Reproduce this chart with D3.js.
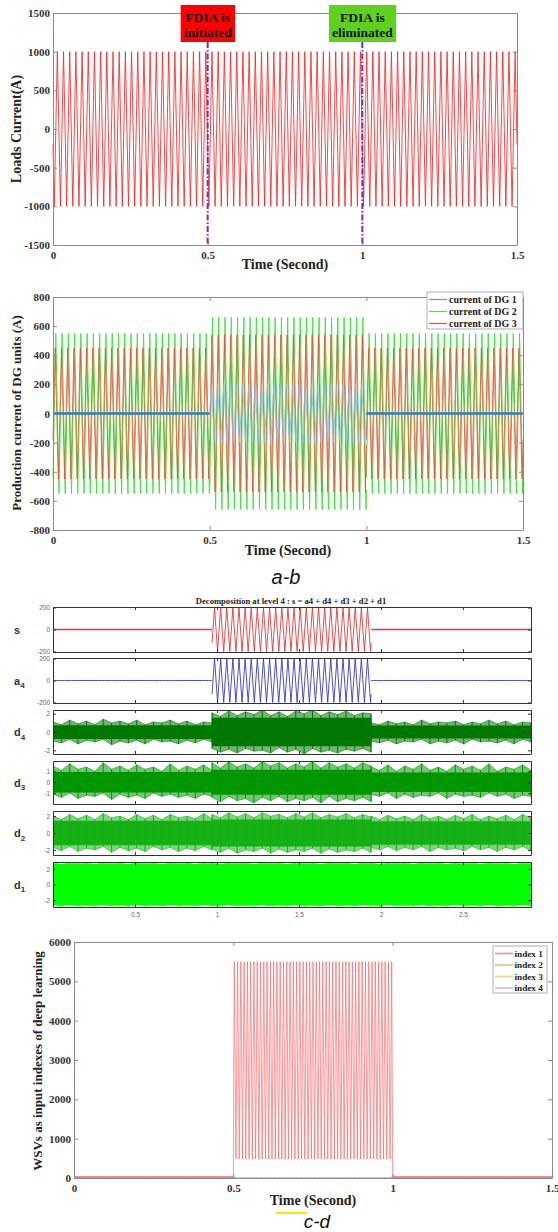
<!DOCTYPE html>
<html><head><meta charset="utf-8">
<script src="https://cdn.jsdelivr.net/npm/d3@7"></script>
<style>body{margin:0;background:#fff}svg{display:block}</style>
</head><body>
<script>
// ================= DATA =================
// Panel a : loads current
const loadTicksX = [0, 0.5, 1, 1.5];
const loadTicksY = [-1500, -1000, -500, 0, 500, 1000, 1500];
const loadSegStart = [0];
const loadSegEnd = [1.5];
const loadSegAmp = [1000];
const loadFreq = 50;
const loadFirstPeak = 0.014;
const eventTimes = [0.5, 1];
const eventLabels = [["FDIA is", "initiated"], ["FDIA is", "eliminated"]];

// Panel b : production current of DG units
const dgNames = ["current of DG 1", "current of DG 2", "current of DG 3"];
const dgTicksX = [0, 0.5, 1, 1.5];
const dgTicksY = [-800, -600, -400, -200, 0, 200, 400, 600, 800];
const dgSegStart = [0, 0.5, 1];
const dgSegEnd = [0.5, 1, 1.5];
const dg1Amp = [0, 200, 0];
const dg2Amp = [550, 660, 550];
const dg3Amp = [450, 540, 450];
const dgFirstPeak = [0.505, 0.009, 0.007];
const dgFreq = 50;

// Panel c : wavelet decomposition
const wavTitle = "Decomposition at level 4 : s = a4 + d4 + d3 + d2 + d1";
const wavTicksX = [0.5, 1, 1.5, 2, 2.5];
const wavXMax = 2.915;
const wavRegionStart = [0, 0.97, 1.94];
const wavRegionEnd = [0.97, 1.94, 2.915];
const wavRowNames = [["s", ""], ["a", "4"], ["d", "4"], ["d", "3"], ["d", "2"], ["d", "1"]];
const wavRowTicks = [[-200, 0, 200], [-200, 0, 200], [-2, 0, 2], [-1, 0, 1], [-2, 0, 2], [-2, 0, 2]];
const sAmp = [0, 200, 0];
const a4Amp = [0, 200, 0];
const sFreq = 26.8;
const sFirstPeak = 0.985;
// dense core half-width of each detail band, per region (before / during / after the attack)
const d4Core = [0.75, 1.55, 0.7];
const d3Core = [0.95, 1.15, 0.9];
const d2Core = [1.45, 1.6, 1.4];
const d1Core = [2.65, 2.65, 2.65];
// outer envelope (spikes), 20 samples per region
const d4Upper = [1.1,0.8,1.3,0.9,1.2,0.8,1.4,1.0,1.2,0.9,1.3,0.8,1.1,1.0,1.3,0.9,1.2,0.8,1.1,1.0,
                 2.1,1.7,2.3,1.8,2.2,1.9,2.4,1.8,2.2,1.7,2.3,2.0,2.4,1.8,2.2,1.9,2.3,1.8,2.1,2.0,
                 1.0,0.8,1.2,0.9,1.1,0.8,1.3,0.9,1.1,1.0,1.2,0.8,1.1,0.9,1.3,0.9,1.2,0.8,1.1,1.0];
const d4Lower = [-1.0,-1.2,-0.8,-1.3,-0.9,-1.1,-0.8,-1.4,-1.0,-1.2,-0.9,-1.3,-0.8,-1.1,-1.0,-1.3,-0.9,-1.2,-0.8,-1.1,
                 -1.8,-2.2,-1.9,-2.3,-1.8,-2.1,-2.0,-2.3,-1.7,-2.2,-1.9,-2.4,-1.8,-2.2,-2.0,-2.3,-1.9,-2.1,-1.8,-2.2,
                 -1.0,-1.2,-0.9,-1.3,-1.0,-1.1,-0.8,-1.3,-1.0,-1.2,-0.9,-1.3,-0.8,-1.1,-1.0,-1.2,-0.9,-1.3,-0.8,-1.1];
const d3Upper = [1.5,1.1,1.7,1.2,1.4,1.0,1.8,1.2,1.5,1.1,1.6,1.2,1.4,1.0,1.7,1.1,1.5,1.2,1.6,1.1,
                 1.8,1.3,1.9,1.4,1.7,1.3,1.9,1.5,1.8,1.3,1.7,1.4,1.9,1.3,1.8,1.4,1.7,1.3,1.8,1.5,
                 1.4,1.1,1.6,1.0,1.5,1.2,1.7,1.1,1.4,1.0,1.6,1.2,1.5,1.1,1.7,1.0,1.4,1.2,1.6,1.1];
const d3Lower = [-1.1,-1.4,-1.0,-1.5,-1.2,-1.3,-1.0,-1.6,-1.1,-1.4,-1.2,-1.5,-1.0,-1.3,-1.1,-1.4,-1.2,-1.5,-1.1,-1.3,
                 -1.4,-1.8,-1.3,-1.7,-1.5,-1.9,-1.4,-1.7,-1.3,-1.8,-1.5,-1.7,-1.4,-1.9,-1.3,-1.8,-1.5,-1.7,-1.4,-1.8,
                 -1.1,-1.3,-1.0,-1.5,-1.1,-1.4,-1.2,-1.3,-1.0,-1.5,-1.1,-1.3,-1.2,-1.4,-1.0,-1.3,-1.1,-1.5,-1.2,-1.3];
const d2Upper = [2.0,1.6,2.2,1.7,2.1,1.6,2.3,1.8,2.0,1.6,2.2,1.7,2.1,1.6,2.2,1.8,2.0,1.7,2.3,1.7,
                 2.2,1.8,2.4,1.9,2.3,1.8,2.4,2.0,2.2,1.8,2.3,1.9,2.4,1.8,2.2,1.9,2.3,1.8,2.2,1.9,
                 2.0,1.6,2.1,1.7,2.0,1.6,2.2,1.7,2.0,1.6,2.1,1.7,2.2,1.6,2.0,1.7,2.1,1.6,2.2,1.8];
const d2Lower = [-1.7,-2.1,-1.6,-2.2,-1.8,-2.0,-1.6,-2.3,-1.7,-2.1,-1.8,-2.2,-1.6,-2.0,-1.7,-2.2,-1.8,-2.1,-1.6,-2.0,
                 -1.9,-2.3,-1.8,-2.4,-2.0,-2.2,-1.8,-2.4,-1.9,-2.3,-2.0,-2.2,-1.8,-2.4,-1.9,-2.3,-2.0,-2.2,-1.8,-2.3,
                 -1.7,-2.0,-1.6,-2.1,-1.7,-2.0,-1.6,-2.2,-1.7,-2.0,-1.8,-2.1,-1.6,-2.0,-1.7,-2.2,-1.7,-2.0,-1.6,-2.1];
const d1Upper = [2.8,2.6,2.8,2.7,2.8,2.6,2.8,2.7,2.8,2.6,2.8,2.7,2.8,2.6,2.8,2.7,2.8,2.6,2.8,2.7,
                 2.8,2.6,2.8,2.7,2.8,2.6,2.8,2.7,2.8,2.6,2.8,2.7,2.8,2.6,2.8,2.7,2.8,2.6,2.8,2.7,
                 2.8,2.6,2.8,2.7,2.8,2.6,2.8,2.7,2.8,2.6,2.8,2.7,2.8,2.6,2.8,2.7,2.8,2.6,2.8,2.7];
const d1Lower = [-2.7,-2.8,-2.6,-2.8,-2.7,-2.8,-2.6,-2.8,-2.7,-2.8,-2.6,-2.8,-2.7,-2.8,-2.6,-2.8,-2.7,-2.8,-2.6,-2.8,
                 -2.7,-2.8,-2.6,-2.8,-2.7,-2.8,-2.6,-2.8,-2.7,-2.8,-2.6,-2.8,-2.7,-2.8,-2.6,-2.8,-2.7,-2.8,-2.6,-2.8,
                 -2.7,-2.8,-2.6,-2.8,-2.7,-2.8,-2.6,-2.8,-2.7,-2.8,-2.6,-2.8,-2.7,-2.8,-2.6,-2.8,-2.7,-2.8,-2.6,-2.8];

// Panel d : WSVs
const wsvNames = ["index 1", "index 2", "index 3", "index 4"];
const wsvTicksX = [0, 0.5, 1, 1.5];
const wsvTicksY = [0, 1000, 2000, 3000, 4000, 5000, 6000];
const wsvAttackStart = 0.503;
const wsvAttackEnd = 0.997;
const wsvEventStart = 0.5;
const wsvEventEnd = 1.0;
const wsvPeakCount = 49;
const wsvHigh = 5500;
const wsvLow = 480;
const wsvBaseline = [25, 12, 8, 5];

// ================= HELPERS =================
const SERIF = "'Liberation Serif','Times New Roman',serif";
const SANS = "'Liberation Sans',Arial,sans-serif";
const svg = d3.select("body").append("svg").attr("width", 558).attr("height", 1232);

function triVal(t, amp, freq, firstPeak) {
  const half = 1 / (2 * freq);
  const p = (t - firstPeak) / half;
  const k = Math.floor(p), f = p - k;
  const s = (((k % 2) + 2) % 2 === 0) ? 1 : -1;
  return amp * (s - 2 * s * f);
}
function zigzag(starts, ends, amps, freq, firstPeak) {
  const half = 1 / (2 * freq), segs = [];
  starts.forEach((s, i) => {
    const e = ends[i], a = amps[i], pts = [];
    pts.push({t: s, v: triVal(s, a, freq, firstPeak)});
    const k0 = Math.ceil((s - firstPeak) / half + 1e-9), k1 = Math.floor((e - firstPeak) / half - 1e-9);
    for (let k = k0; k <= k1; k++) pts.push({t: firstPeak + k * half, v: ((((k % 2) + 2) % 2) === 0 ? 1 : -1) * a});
    pts.push({t: e, v: triVal(e, a, freq, firstPeak)});
    segs.push({amp: a, pts});
  });
  return segs;
}
function styleAx(g, font, size, color, weight) {
  g.select(".domain").attr("stroke", "#8a8a8a");
  g.selectAll(".tick line").attr("stroke", "#8a8a8a");
  g.selectAll(".tick text").attr("font-family", font).attr("font-size", size)
    .attr("font-weight", weight || "bold").attr("fill", color);
}
function boxAxes(x, y, xt, yt, o) {
  const g = svg.append("g");
  const yb = y.range()[0], yt0 = y.range()[1], xl = x.range()[0], xr = x.range()[1];
  const fmt = d => String(d);
  const bx = g.append("g").attr("transform", `translate(0,${yb})`)
    .call(d3.axisBottom(x).tickValues(xt).tickSizeInner(-(o.tick || 4)).tickSizeOuter(0).tickPadding(o.xpad).tickFormat(o.noX ? "" : fmt));
  const tx = g.append("g").attr("transform", `translate(0,${yt0})`)
    .call(d3.axisTop(x).tickValues(xt).tickSizeInner(-(o.tick || 4)).tickSizeOuter(0).tickFormat(""));
  const ly = g.append("g").attr("transform", `translate(${xl},0)`)
    .call(d3.axisLeft(y).tickValues(yt).tickSizeInner(-(o.tick || 4)).tickSizeOuter(0).tickPadding(o.ypad).tickFormat(fmt));
  const ry = g.append("g").attr("transform", `translate(${xr},0)`)
    .call(d3.axisRight(y).tickValues(yt).tickSizeInner(-(o.tick || 4)).tickSizeOuter(0).tickFormat(""));
  [bx, tx, ly, ry].forEach(a => styleAx(a, o.font, o.size, o.color, o.weight));
  if (o.boxColor) [bx, tx, ly, ry].forEach(a => { a.select(".domain").attr("stroke", o.boxColor); a.selectAll(".tick line").attr("stroke", o.boxColor); });
  return g;
}
const lineGen = (x, y) => d3.line().x(d => x(d.t)).y(d => y(d.v));

// ================= PANEL A =================
{
  const x = d3.scaleLinear().domain([0, 1.5]).range([53, 517]);
  const y = d3.scaleLinear().domain([-1500, 1500]).range([245, 13]);
  const segs = zigzag(loadSegStart, loadSegEnd, loadSegAmp, loadFreq, loadFirstPeak);
  segs.forEach(s => svg.append("path").attr("d", lineGen(x, y)(s.pts)).attr("fill", "none")
    .attr("stroke", "#ff2424").attr("stroke-width", 0.85));
  boxAxes(x, y, loadTicksX, loadTicksY, {xpad: 6, ypad: 3, font: SERIF, size: 11, color: "#333"});
  const boxColors = ["#ff0000", "#5fd11c"];
  eventTimes.forEach((t, i) => {
    svg.append("line").attr("x1", x(t)).attr("x2", x(t)).attr("y1", 42).attr("y2", 245)
      .attr("stroke", "#7a2fa8").attr("stroke-width", 2).attr("stroke-dasharray", "6,2,1.5,2");
    const gt = svg.append("g");
    const txt = gt.append("text").attr("font-family", SERIF).attr("font-weight", "bold").attr("font-size", 13.5)
      .attr("fill", "#111").attr("text-anchor", "middle");
    eventLabels[i].forEach((l, j) => txt.append("tspan").attr("x", x(t)).attr("y", 21.5 + j * 15.5).text(l));
    const bb = txt.node().getBBox();
    gt.insert("rect", "text").attr("x", bb.x - 3).attr("y", 5).attr("width", bb.width + 6).attr("height", 37)
      .attr("fill", boxColors[i]);
  });
  svg.append("text").attr("x", 285).attr("y", 268.5).attr("text-anchor", "middle").attr("font-family", SERIF)
    .attr("font-weight", "bold").attr("font-size", 14).attr("fill", "#222").text("Time (Second)");
  svg.append("text").attr("transform", "translate(21,129) rotate(-90)").attr("text-anchor", "middle")
    .attr("font-family", SERIF).attr("font-weight", "bold").attr("font-size", 14).attr("fill", "#222").text("Loads Current(A)");
}

// ================= PANEL B =================
{
  const x = d3.scaleLinear().domain([0, 1.5]).range([53, 523]);
  const y = d3.scaleLinear().domain([-800, 800]).range([530, 297]);
  const dgColors = ["#5aa3dc", "#3fe83f", "#e2552a"];
  zigzag(dgSegStart, dgSegEnd, dg2Amp, dgFreq, dgFirstPeak[1]).forEach(s =>
    svg.append("path").attr("d", lineGen(x, y)(s.pts)).attr("fill", "none").attr("stroke", dgColors[1]).attr("stroke-width", 1));
  zigzag(dgSegStart, dgSegEnd, dg3Amp, dgFreq, dgFirstPeak[2]).forEach(s =>
    svg.append("path").attr("d", lineGen(x, y)(s.pts)).attr("fill", "none").attr("stroke", dgColors[2]).attr("stroke-width", 0.9).attr("stroke-opacity", 0.9));
  zigzag(dgSegStart, dgSegEnd, dg1Amp, dgFreq, dgFirstPeak[0]).forEach(s =>
    svg.append("path").attr("d", lineGen(x, y)(s.pts)).attr("fill", "none")
      .attr("stroke", s.amp === 0 ? "#2b7cc0" : "#86bde6").attr("stroke-width", s.amp === 0 ? 2.6 : 0.8));
  boxAxes(x, y, dgTicksX, dgTicksY, {xpad: 6, ypad: 3, font: SERIF, size: 11, color: "#333"});
  const lg = svg.append("g");
  lg.append("rect").attr("x", 427).attr("y", 292).attr("width", 96).attr("height", 37).attr("fill", "#fff").attr("stroke", "#9a9a9a").attr("stroke-width", 0.8);
  dgNames.forEach((n, i) => {
    const yy = 299.5 + i * 12;
    lg.append("line").attr("x1", 429).attr("x2", 447).attr("y1", yy).attr("y2", yy).attr("stroke", dgColors[i]).attr("stroke-width", 1.3);
    lg.append("text").attr("x", 449).attr("y", yy + 3.5).attr("font-family", SERIF).attr("font-weight", "bold")
      .attr("font-size", 10).attr("fill", "#222").text(n);
  });
  svg.append("text").attr("x", 288).attr("y", 555).attr("text-anchor", "middle").attr("font-family", SERIF)
    .attr("font-weight", "bold").attr("font-size", 14).attr("fill", "#222").text("Time (Second)");
  svg.append("text").attr("transform", "translate(21,413) rotate(-90)").attr("text-anchor", "middle")
    .attr("font-family", SERIF).attr("font-weight", "bold").attr("font-size", 13).attr("fill", "#222").text("Production current of DG units (A)");
  svg.append("text").attr("x", 286).attr("y", 584).attr("text-anchor", "middle").attr("font-family", SANS)
    .attr("font-style", "italic").attr("font-size", 20).attr("fill", "#111").text("a-b");
}

// ================= PANEL C =================
{
  const x = d3.scaleLinear().domain([0, wavXMax]).range([53, 531]);
  const rowBox = [[607, 652], [658, 703], [710, 754], [761, 804], [811, 855], [862, 907]];
  const rowDom = [[-205, 205], [-205, 205], [-2.4, 2.4], [-2.0, 1.95], [-2.6, 2.6], [-2.9, 2.9]];
  const noise = [null, null, [d4Upper, d4Lower, d4Core], [d3Upper, d3Lower, d3Core], [d2Upper, d2Lower, d2Core], [d1Upper, d1Lower, d1Core]];
  const noiseColors = [null, null, "#007800", "#009600", "#14b014", "#00ff00"];
  const envT = [], envR = [];
  wavRegionStart.forEach((s, r) => { for (let i = 0; i < 20; i++) { envT.push(s + (wavRegionEnd[r] - s) * i / 19); envR.push(r); } });
  svg.append("text").attr("x", 291).attr("y", 604).attr("text-anchor", "middle").attr("font-family", SERIF)
    .attr("font-weight", "bold").attr("font-size", 8.6).attr("fill", "#222").text(wavTitle);
  rowBox.forEach((b, r) => {
    const y = d3.scaleLinear().domain(rowDom[r]).range([b[1], b[0]]);
    const clipId = "clip" + r;
    svg.append("clipPath").attr("id", clipId).append("rect").attr("x", 53).attr("y", b[0]).attr("width", 478).attr("height", b[1] - b[0]);
    const g = svg.append("g").attr("clip-path", `url(#${clipId})`);
    if (r < 2) {
      const amps = r === 0 ? sAmp : a4Amp;
      const col = r === 0 ? "#e23a3a" : "#3a3ac0";
      zigzag(wavRegionStart, wavRegionEnd, amps, sFreq, sFirstPeak).forEach(s =>
        g.append("path").attr("d", lineGen(x, y)(s.pts)).attr("fill", "none").attr("stroke", col)
          .attr("stroke-width", s.amp === 0 ? (r === 0 ? 1.3 : 0.9) : 0.9));
    } else {
      const [up, lo, core] = noise[r];
      const data = envT.map((t, i) => ({t, hi: up[i], lo: lo[i], c: core[envR[i]]}));
      g.append("path").attr("d", d3.area().x(d => x(d.t)).y0(d => y(d.lo)).y1(d => y(d.hi))(data))
        .attr("fill", noiseColors[r]).attr("fill-opacity", 0.55).attr("stroke", noiseColors[r]).attr("stroke-width", 0.5);
      g.append("path").attr("d", d3.area().x(d => x(d.t)).y0(d => y(-d.c)).y1(d => y(d.c)).curve(d3.curveStepAfter)(data))
        .attr("fill", noiseColors[r]);
      // spikes at each envelope sample
      g.selectAll(null).data(data).join("line")
        .attr("x1", d => x(d.t)).attr("x2", d => x(d.t)).attr("y1", d => y(d.lo)).attr("y2", d => y(d.hi))
        .attr("stroke", noiseColors[r]).attr("stroke-width", 1);
    }
    boxAxes(x, y, wavTicksX, wavRowTicks[r], {xpad: 5, ypad: 3, font: SANS, size: 6.5, color: "#666", weight: "normal",
      noX: r < 5, tick: 3, boxColor: "#333"});
    const lab = svg.append("text").attr("x", 14).attr("y", (b[0] + b[1]) / 2 + 4).attr("font-family", SANS)
      .attr("font-weight", "bold").attr("font-size", 11).attr("fill", "#333");
    lab.append("tspan").text(wavRowNames[r][0]);
    if (wavRowNames[r][1]) lab.append("tspan").attr("dy", 3.5).attr("font-size", 8).text(wavRowNames[r][1]);
  });
}

// ================= PANEL D =================
{
  const x = d3.scaleLinear().domain([0, 1.5]).range([74, 552]);
  const y = d3.scaleLinear().domain([0, 6000]).range([1178, 942]);
  const wsvColors = ["#ff8a8a", "#f5b38c", "#f0d58c", "#c7bce3"];
  for (let i = 3; i >= 1; i--) {
    svg.append("path").attr("d", lineGen(x, y)([{t: 0, v: wsvBaseline[i]}, {t: 1.5, v: wsvBaseline[i]}]))
      .attr("fill", "none").attr("stroke", wsvColors[i]).attr("stroke-width", 1).attr("stroke-dasharray", i === 1 ? "3,2" : null);
  }
  const pts = [{t: 0, v: wsvBaseline[0]}, {t: wsvEventStart, v: wsvBaseline[0]}];
  const step = (wsvAttackEnd - wsvAttackStart) / (2 * (wsvPeakCount - 1));
  for (let k = 0; k <= 2 * (wsvPeakCount - 1); k++) pts.push({t: wsvAttackStart + k * step, v: k % 2 === 0 ? wsvHigh : wsvLow});
  pts.push({t: wsvEventEnd, v: wsvBaseline[0]}, {t: 1.5, v: wsvBaseline[0]});
  svg.append("path").attr("d", lineGen(x, y)(pts.slice(0, 2))).attr("fill", "none").attr("stroke", "#f06a6a").attr("stroke-width", 1.6);
  svg.append("path").attr("d", lineGen(x, y)(pts.slice(pts.length - 2))).attr("fill", "none").attr("stroke", "#f06a6a").attr("stroke-width", 1.6);
  svg.append("path").attr("d", lineGen(x, y)(pts.slice(1, pts.length - 1))).attr("fill", "none").attr("stroke", "#ff6a6a").attr("stroke-width", 0.7);
  boxAxes(x, y, wsvTicksX, wsvTicksY, {xpad: 6, ypad: 3, font: SERIF, size: 11, color: "#333"});
  const lg = svg.append("g");
  lg.append("rect").attr("x", 493).attr("y", 946).attr("width", 54).attr("height", 47).attr("fill", "#fff").attr("stroke", "#9a9a9a").attr("stroke-width", 0.8);
  wsvNames.forEach((n, i) => {
    const yy = 953.5 + i * 11.5;
    lg.append("line").attr("x1", 495).attr("x2", 513).attr("y1", yy).attr("y2", yy).attr("stroke", wsvColors[i]).attr("stroke-width", 1.6);
    lg.append("text").attr("x", 514.5).attr("y", yy + 3.2).attr("font-family", SERIF).attr("font-weight", "bold")
      .attr("font-size", 9.2).attr("fill", "#222").text(n);
  });
  svg.append("text").attr("x", 313).attr("y", 1205).attr("text-anchor", "middle").attr("font-family", SERIF)
    .attr("font-weight", "bold").attr("font-size", 14).attr("fill", "#222").text("Time (Second)");
  svg.append("line").attr("x1", 276).attr("x2", 307).attr("y1", 1213).attr("y2", 1213).attr("stroke", "#ffe600").attr("stroke-width", 2);
  svg.append("text").attr("transform", "translate(42,1061) rotate(-90)").attr("text-anchor", "middle")
    .attr("font-family", SERIF).attr("font-weight", "bold").attr("font-size", 13).attr("fill", "#222").text("WSVs as input indexes of deep learning");
  svg.append("text").attr("x", 317).attr("y", 1228).attr("text-anchor", "middle").attr("font-family", SANS)
    .attr("font-style", "italic").attr("font-size", 19).attr("fill", "#111").text("c-d");
}
</script>
</body></html>
